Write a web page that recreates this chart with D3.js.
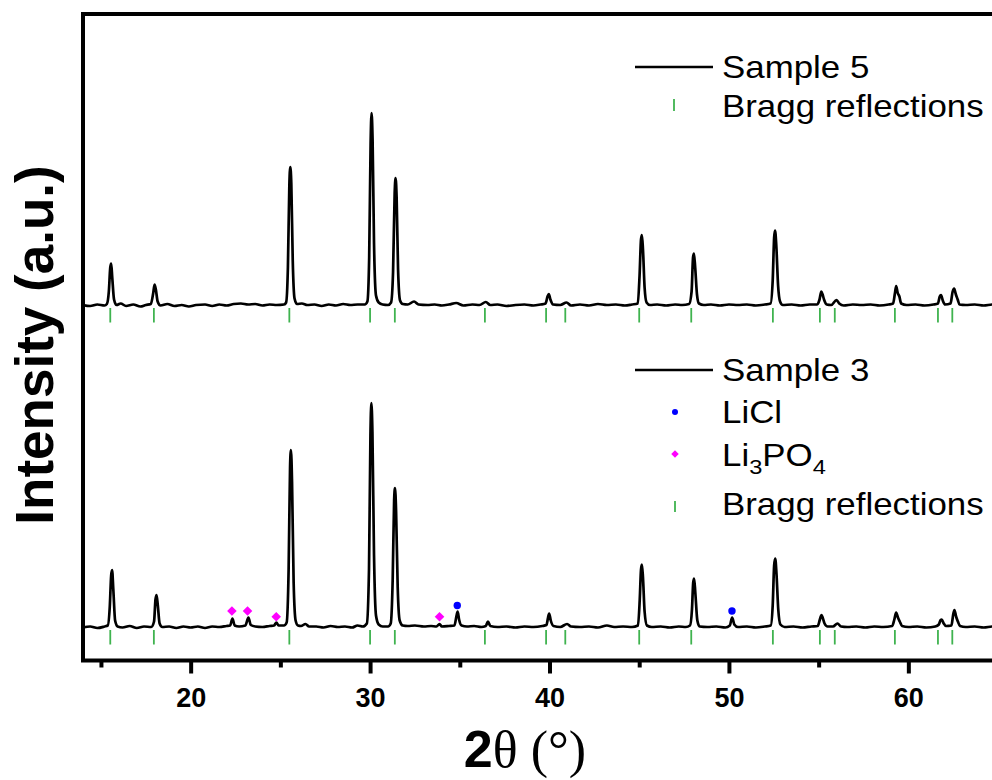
<!DOCTYPE html>
<html>
<head>
<meta charset="utf-8">
<script src="https://cdn.jsdelivr.net/npm/d3@7"></script>
<style>
  html, body { margin: 0; padding: 0; background: #fff; }
  svg { display: block; }
  text { font-family: Arial, "Liberation Sans", sans-serif; fill: #000; }
</style>
</head>
<body>
<svg id="chart" width="992" height="780"></svg>
<script>
// XRD patterns: [2θ (deg), intensity above the pattern's own baseline (a.u.)]
const sample5 = [
  [14.0,0.5],[14.4,-0.5],[14.8,1],[15.2,0],[15.33,1.5],[15.44,14],[15.52,38],[15.57,42],[15.63,28],[15.73,6],[15.87,0.5],
  [16.1,2],[16.4,-0.5],[16.8,1],[17.2,-1],[17.5,0.5],[17.78,1.5],[17.91,12],[17.99,21],[18.06,16],[18.16,4],[18.32,0],
  [18.7,1.5],[19.1,-0.5],[19.5,0.5],[19.9,-1],[20.3,0.5],[20.8,1],[21.2,-0.5],[21.6,1],[22.0,0],[22.4,1.5],[22.8,2],
  [23.2,1],[23.6,1.5],[24.0,0],[24.4,1],[24.8,0.5],[25.2,1],[25.32,3],[25.42,38],[25.5,120],[25.55,138.5],[25.61,122],
  [25.69,45],[25.79,7],[25.93,1.5],[26.2,2],[26.5,0.5],[26.9,1],[27.3,-0.5],[27.7,1],[28.1,0],[28.5,1.5],[28.9,0.5],
  [29.3,1],[29.7,1],[29.85,4],[29.95,48],[30.03,162],[30.08,192.5],[30.14,166],[30.22,62],[30.33,10],[30.48,3],[30.7,1],
  [31.0,0.5],[31.17,3],[31.28,33],[31.37,112],[31.42,127.5],[31.48,108],[31.56,36],[31.67,5],[31.82,1.5],[32.1,1],
  [32.45,4],[32.7,1],[33.2,0.5],[33.6,1],[34.0,0],[34.4,1],[34.8,2.5],[35.2,0],[35.7,1],[36.1,0.5],[36.45,3.5],
  [36.7,0.5],[37.1,1],[37.6,-0.5],[38.1,0.5],[38.6,1],[39.1,0],[39.5,1],[39.78,2],[39.89,9],[39.96,11.5],[40.05,6],
  [40.2,1],[40.6,0.5],[40.95,3],[41.2,0],[41.7,1],[42.2,0],[42.7,1.5],[43.2,0.5],[43.7,1],[44.2,0],[44.6,1],[44.92,2],
  [45.02,30],[45.1,66],[45.15,70.5],[45.21,56],[45.3,18],[45.41,3],[45.6,0.5],[46.0,1],[46.5,0],[47.0,1],[47.4,0.5],
  [47.78,1.5],[47.92,14],[48.0,48],[48.05,52],[48.12,38],[48.22,11],[48.33,2],[48.6,0.5],[49.0,1],[49.5,0],[50.0,1],
  [50.5,0.5],[51.0,1],[51.5,0],[52.0,1],[52.32,2],[52.44,25],[52.52,68],[52.57,75],[52.64,60],[52.74,20],[52.85,4],
  [53.0,0.5],[53.5,1],[54.0,0],[54.5,1],[54.9,1],[55.05,6],[55.15,14],[55.22,11],[55.3,6],[55.45,1],[55.7,0.5],
  [56.0,5.5],[56.15,2],[56.4,0],[56.9,1],[57.4,0.5],[57.9,1],[58.4,0],[58.9,1],[59.15,2],[59.25,12],[59.32,19.5],
  [59.4,13],[59.5,9],[59.6,2],[59.9,0.5],[60.4,1],[60.9,0],[61.4,1],[61.65,2],[61.75,9],[61.82,10.5],[61.92,5],
  [62.05,1],[62.35,2],[62.47,14],[62.55,17],[62.65,11],[62.75,6],[62.85,1],[63.2,0.5],[63.7,1],[64.2,0],[64.7,1],
  [65.2,0.5],[65.7,1]
];

const sample3 = [
  [14.0,0],[14.4,1],[14.8,-0.5],[15.2,1],[15.38,2],[15.49,20],[15.57,52],[15.62,57.5],[15.69,38],[15.79,7],[15.93,1],
  [16.2,0],[16.6,1.5],[17.0,-0.5],[17.4,1],[17.8,0.5],[17.96,6],[18.04,28],[18.1,32.5],[18.17,22],[18.27,4],[18.42,0.5],
  [18.8,1],[19.2,-0.5],[19.6,1],[20.0,0],[20.4,1],[20.8,-0.5],[21.2,1],[21.6,0.5],[22.0,1.5],[22.2,2],[22.33,9],
  [22.45,2],[22.7,1],[23.05,2],[23.22,10],[23.35,2.5],[23.6,1],[24.0,0.5],[24.4,1.5],[24.65,2],[24.78,5],[24.9,2],
  [25.2,2],[25.35,5],[25.46,58],[25.54,160],[25.59,177.5],[25.65,146],[25.74,45],[25.85,7],[25.98,2],[26.15,1.5],
  [26.4,3.5],[26.6,1],[27.0,1],[27.4,0],[27.8,1.5],[28.2,0.5],[28.6,1],[29.0,0],[29.3,2],[29.6,1],[29.82,4],
  [29.94,58],[30.02,192],[30.07,224.5],[30.13,196],[30.22,72],[30.33,12],[30.48,3],[30.7,1],[31.0,1],[31.15,4],
  [31.26,48],[31.34,127],[31.39,139.5],[31.45,116],[31.54,40],[31.65,7],[31.82,2],[32.1,1.5],[32.5,2],[33.0,1],
  [33.4,1.5],[33.7,1],[33.87,3.5],[34.0,1],[34.4,1.5],[34.7,2],[34.82,12],[34.88,16],[34.96,8],[35.1,2],[35.4,1],
  [35.8,1.5],[36.2,0.5],[36.45,1.5],[36.57,6],[36.7,1.5],[37.1,0.5],[37.6,1],[38.1,0],[38.6,1],[39.1,0.5],[39.6,1.5],
  [39.83,2.5],[39.92,10],[39.98,14],[40.07,7],[40.22,1.5],[40.6,0.5],[40.98,3.5],[41.2,1],[41.7,0.5],[42.2,1],[42.7,0],
  [43.2,2],[43.6,0.5],[44.1,1],[44.6,0.5],[44.93,2],[45.03,28],[45.1,58],[45.15,63],[45.21,50],[45.3,16],[45.43,2],
  [45.7,0.5],[46.2,1],[46.7,0],[47.2,1],[47.6,0.5],[47.83,2],[47.94,18],[48.01,45],[48.06,49],[48.13,34],[48.24,7],
  [48.37,1],[48.8,0.5],[49.3,1],[49.8,0],[50.05,2],[50.18,10],[50.3,3],[50.5,0.5],[51.0,1],[51.5,0],[52.0,1],
  [52.33,2],[52.44,22],[52.52,62],[52.58,69],[52.65,54],[52.75,18],[52.87,3],[53.1,0.5],[53.6,1],[54.1,0],[54.6,1],
  [54.95,1.5],[55.07,8],[55.16,12.5],[55.24,9],[55.33,4],[55.5,1],[55.8,1],[56.05,4],[56.25,1],[56.6,0.5],[57.1,1],
  [57.6,0],[58.1,1],[58.6,0.5],[59.1,1.5],[59.22,8],[59.32,15],[59.42,10],[59.52,6],[59.65,1.5],[60.0,0.5],[60.5,1],
  [61.0,0],[61.5,1],[61.7,3],[61.8,7.5],[61.86,8],[61.97,4],[62.1,1.5],[62.4,2],[62.5,13],[62.57,17.5],[62.66,11],
  [62.76,6],[62.88,1.5],[63.2,0.5],[63.7,1],[64.2,0],[64.7,1],[65.2,0.5],[65.7,1]
];

// Reference reflection positions (2θ, deg)
const braggPositions = [15.52, 17.95, 25.5, 30.0, 31.38, 36.4, 39.81, 40.88, 45.0, 47.9,
                        52.45, 55.07, 55.9, 59.25, 61.65, 62.45];

// Impurity markers on Sample 3: [2θ, height above baseline]
const liclMarks   = [[34.86, 22], [50.17, 16.5]];
const li3po4Marks = [[22.3, 16.5], [23.17, 16.5], [24.77, 10.8], [33.87, 10.8]];

// Vertical offsets of the stacked patterns (a.u.)
const offsets = { sample3: 33, sample5: 355 };

const xTicks = [20, 30, 40, 50, 60];
const xMinorTicks = [15, 25, 35, 45, 55, 65];

const svg = d3.select("#chart");
const pLeft = 83, pTop = 14, pBottom = 660.5, pRight = 1016;

const x = d3.scaleLinear().domain([14, 66]).range([pLeft, pRight]);
const y = d3.scaleLinear().domain([0, 646.5]).range([pBottom, pTop]);

const green = "#3fb34f", blue = "#0000ff", magenta = "#ff00ff";

const plot = svg.append("g");
plot.append("defs").append("clipPath").attr("id", "clip")
  .append("rect").attr("x", pLeft).attr("y", pTop).attr("width", pRight - pLeft).attr("height", pBottom - pTop);

const line = off => d3.line()
  .x(d => x(d[0]))
  .y(d => y(d[1] + off))
  .curve(d3.curveMonotoneX);

const area = plot.append("g").attr("clip-path", "url(#clip)");

// Bragg tick rows under each pattern
function braggRow(off) {
  area.append("g").selectAll("line").data(braggPositions).join("line")
    .attr("x1", d => x(d)).attr("x2", d => x(d))
    .attr("y1", y(off - 2.5)).attr("y2", y(off - 17))
    .attr("stroke", green).attr("stroke-width", 1.8);
}
braggRow(offsets.sample5);
braggRow(offsets.sample3);

area.append("path").datum(sample5)
  .attr("d", line(offsets.sample5))
  .attr("fill", "none").attr("stroke", "#000").attr("stroke-width", 2.7)
  .attr("stroke-linejoin", "round");
area.append("path").datum(sample3)
  .attr("d", line(offsets.sample3))
  .attr("fill", "none").attr("stroke", "#000").attr("stroke-width", 2.7)
  .attr("stroke-linejoin", "round");

// Phase markers
area.append("g").selectAll("path").data(li3po4Marks).join("path")
  .attr("transform", d => `translate(${x(d[0])},${y(d[1] + offsets.sample3)}) rotate(45)`)
  .attr("d", d3.symbol().type(d3.symbolSquare).size(46)())
  .attr("fill", magenta);
area.append("g").selectAll("circle").data(liclMarks).join("circle")
  .attr("cx", d => x(d[0])).attr("cy", d => y(d[1] + offsets.sample3))
  .attr("r", 3.7).attr("fill", blue);

// Frame and x axis
plot.append("rect")
  .attr("x", pLeft).attr("y", pTop).attr("width", pRight - pLeft).attr("height", pBottom - pTop)
  .attr("fill", "none").attr("stroke", "#000").attr("stroke-width", 4);

const xAxis = d3.axisBottom(x).tickValues(xTicks).tickSize(13).tickPadding(14)
  .tickFormat(d3.format("d"));
const gx = svg.append("g").attr("transform", `translate(0,${pBottom})`).call(xAxis);
gx.select(".domain").remove();
gx.selectAll(".tick line").attr("stroke", "#000").attr("stroke-width", 4);
gx.selectAll(".tick text")
  .style("font-family", "Arial, 'Liberation Sans', sans-serif")
  .style("font-size", "27px").style("font-weight", "bold").attr("fill", "#000");

const xAxisMinor = d3.axisBottom(x).tickValues(xMinorTicks).tickSize(7).tickFormat("");
const gxm = svg.append("g").attr("transform", `translate(0,${pBottom})`).call(xAxisMinor);
gxm.select(".domain").remove();
gxm.selectAll(".tick line").attr("stroke", "#000").attr("stroke-width", 4);

// Axis titles
svg.append("text")
  .attr("transform", "translate(53,345) rotate(-90)")
  .attr("text-anchor", "middle")
  .style("font-size", "53px").style("font-weight", "bold")
  .text("Intensity (a.u.)");

const xt = svg.append("text")
  .attr("x", 525).attr("y", 767).attr("text-anchor", "middle")
  .style("font-size", "52px");
xt.append("tspan").style("font-weight", "bold").text("2");
xt.append("tspan").style("font-family", "'Liberation Serif', 'Times New Roman', serif").text("θ (°)");

// Legends
const legFont = 31;
function legendText(tx, ty) {
  return svg.append("text")
    .attr("transform", `translate(${tx},${ty}) scale(1.125,1)`)
    .style("font-size", legFont + "px");
}

// Upper legend
svg.append("line").attr("x1", 635).attr("x2", 713).attr("y1", 67).attr("y2", 67)
  .attr("stroke", "#000").attr("stroke-width", 2.5);
legendText(722, 78).text("Sample 5");
svg.append("line").attr("x1", 674).attr("x2", 674).attr("y1", 99).attr("y2", 111)
  .attr("stroke", green).attr("stroke-width", 1.8);
legendText(722, 117).text("Bragg reflections");

// Lower legend
svg.append("line").attr("x1", 635).attr("x2", 713).attr("y1", 370).attr("y2", 370)
  .attr("stroke", "#000").attr("stroke-width", 2.5);
legendText(722, 381).text("Sample 3");
svg.append("circle").attr("cx", 675).attr("cy", 412).attr("r", 3).attr("fill", blue);
legendText(722, 423).text("LiCl");
svg.append("path")
  .attr("transform", "translate(675,454) rotate(45)")
  .attr("d", d3.symbol().type(d3.symbolSquare).size(28)())
  .attr("fill", magenta);
const li = legendText(722, 466);
li.append("tspan").text("Li");
li.append("tspan").attr("dy", 8).style("font-size", "21px").text("3");
li.append("tspan").attr("dy", -8).text("PO");
li.append("tspan").attr("dy", 8).style("font-size", "21px").text("4");
svg.append("line").attr("x1", 675).attr("x2", 675).attr("y1", 501).attr("y2", 512)
  .attr("stroke", green).attr("stroke-width", 1.8);
legendText(722, 515).text("Bragg reflections");
</script>
</body>
</html>
